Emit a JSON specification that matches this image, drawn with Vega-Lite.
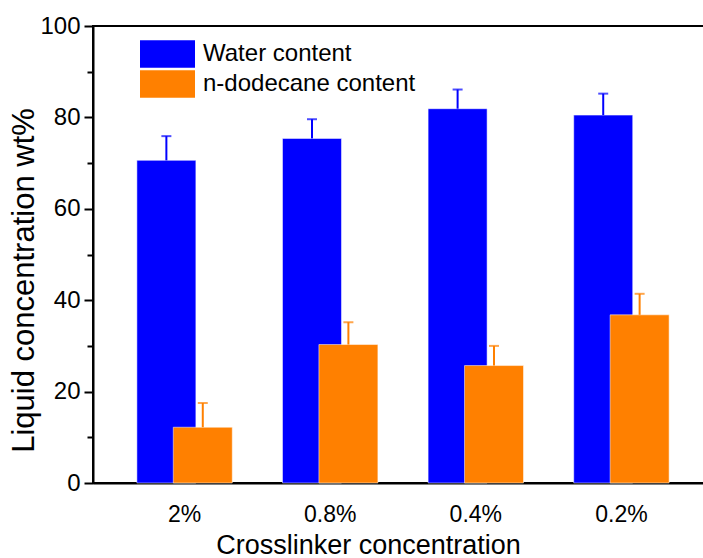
{
  "$schema": "https://vega.github.io/schema/vega-lite/v6.json",
  "width": 620,
  "height": 457,
  "autosize": {"type": "none"},
  "padding": {"left": 93, "top": 26, "right": 0, "bottom": 75},
  "background": "white",
  "config": {
    "font": "Liberation Sans",
    "view": {"stroke": "black", "strokeWidth": 2}
  },
  "data": {
    "values": [
      {"conc": "2%", "series": "Water content", "value": 70.6, "upper": 75.9},
      {"conc": "0.8%", "series": "Water content", "value": 75.4, "upper": 79.6},
      {"conc": "0.4%", "series": "Water content", "value": 81.9, "upper": 86.1},
      {"conc": "0.2%", "series": "Water content", "value": 80.5, "upper": 85.2},
      {"conc": "2%", "series": "n-dodecane content", "value": 12.2, "upper": 17.5},
      {"conc": "0.8%", "series": "n-dodecane content", "value": 30.3, "upper": 35.2},
      {"conc": "0.4%", "series": "n-dodecane content", "value": 25.7, "upper": 30.0},
      {"conc": "0.2%", "series": "n-dodecane content", "value": 36.8, "upper": 41.4}
    ]
  },
  "encoding": {
    "x": {
      "field": "conc",
      "type": "nominal",
      "sort": ["2%", "0.8%", "0.4%", "0.2%"],
      "scale": {"paddingInner": 0, "paddingOuter": 0.1289},
      "axis": {
        "title": "Crosslinker concentration",
        "labelAngle": 0,
        "labelFontSize": 23,
        "labelColor": "black",
        "labelPadding": 20,
        "ticks": false,
        "domainColor": "black",
        "domainWidth": 2,
        "titleFontSize": 27,
        "titleFontWeight": "normal",
        "titleColor": "black",
        "titleX": 275,
        "titleY": 70,
        "titleBaseline": "alphabetic"
      }
    },
    "xOffset": {
      "field": "series",
      "type": "nominal",
      "sort": ["Water content", "n-dodecane content"],
      "scale": {"paddingInner": 0, "paddingOuter": 1.02}
    }
  },
  "layer": [
    {
      "mark": {"type": "bar", "width": 59, "stroke": "white", "strokeOpacity": 0.5, "strokeWidth": 1},
      "encoding": {
        "y": {
          "field": "value",
          "type": "quantitative",
          "scale": {"domain": [0, 100], "nice": false},
          "axis": {
            "title": "Liquid concentration wt%",
            "values": [0, 10, 20, 30, 40, 50, 60, 70, 80, 90, 100],
            "labelExpr": "datum.value % 20 === 0 ? datum.label : ''",
            "grid": false,
            "tickSize": {"condition": {"test": "datum.value % 20 === 0", "value": 9}, "value": 6},
            "tickWidth": 2,
            "tickColor": "black",
            "domainColor": "black",
            "domainWidth": 2,
            "labelFontSize": 24,
            "labelColor": "black",
            "labelPadding": 4,
            "titleFontSize": 31,
            "titleFontWeight": "normal",
            "titleColor": "black",
            "titleX": -60,
            "titleY": 254,
            "titleBaseline": "alphabetic"
          }
        },
        "color": {
          "field": "series",
          "type": "nominal",
          "sort": ["Water content", "n-dodecane content"],
          "scale": {"range": ["#0000FF", "#FF8000"]},
          "legend": {
            "title": null,
            "orient": "none",
            "legendX": 47,
            "legendY": 14,
            "padding": 0,
            "rowPadding": 2,
            "clipHeight": 28,
            "symbolType": "M-1,-0.5H1V0.5H-1Z",
            "symbolSize": 3025,
            "symbolStrokeWidth": 0,
            "symbolOpacity": 1,
            "labelFontSize": 24,
            "labelColor": "black",
            "labelOffset": 8,
            "labelLimit": 400
          }
        }
      }
    },
    {
      "mark": {"type": "rule", "strokeWidth": 2},
      "encoding": {
        "y": {"field": "value", "type": "quantitative"},
        "y2": {"field": "upper"},
        "color": {"field": "series", "type": "nominal", "sort": ["Water content", "n-dodecane content"], "legend": null}
      }
    },
    {
      "mark": {"type": "tick", "size": 10, "thickness": 2, "orient": "horizontal"},
      "encoding": {
        "y": {"field": "upper", "type": "quantitative"},
        "color": {"field": "series", "type": "nominal", "sort": ["Water content", "n-dodecane content"], "legend": null}
      }
    }
  ]
}
